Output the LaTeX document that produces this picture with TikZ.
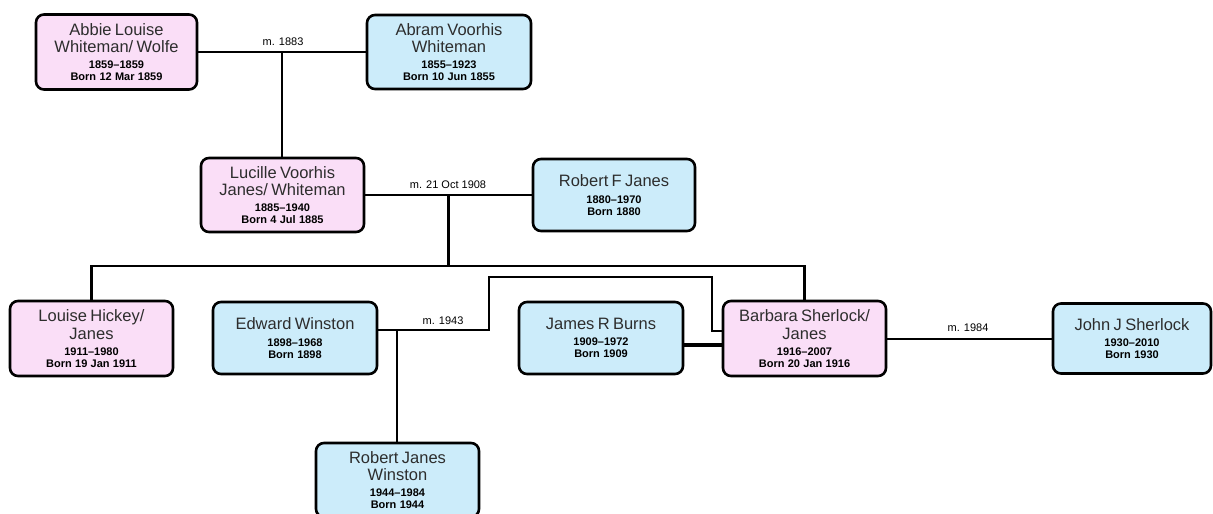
\documentclass[tikz,border=0pt]{standalone}
\usepackage{fontspec}
\setmainfont{Liberation Sans}
\usetikzlibrary{calc}
\definecolor{fpink}{RGB}{250,222,247}
\definecolor{mblue}{RGB}{204,236,250}
\definecolor{nametxt}{RGB}{45,45,45}
\newcommand\pname[1]{{\fontsize{16.5}{17.5}\selectfont\color{nametxt}#1\par}\vspace{4.2pt}}
\newcommand\pdates[1]{{\fontsize{11}{12}\selectfont\bfseries #1\par}}
\begin{document}
\begin{tikzpicture}[x=1pt,y=-1pt,
  person/.style={draw=black, line width=2.6pt, rounded corners=8pt, inner sep=0pt,
    text width=158pt, align=center, minimum height=74pt},
  female/.style={person, fill=fpink},
  male/.style={person, fill=mblue},
  conn/.style={draw=black, line width=2.6pt},
  thinconn/.style={draw=black, line width=2pt},
  wideconn/.style={draw=black, line width=3.6pt},
  mlabel/.style={font=\fontsize{11}{13}\selectfont, inner sep=0pt}
]
\useasboundingbox (0,0) rectangle (1213,514);
\clip (0,0) rectangle (1213,514);

% persons
\node[female, minimum width=161pt, minimum height=75pt] (abbie) at (116.5,52)
  {\pname{Abbie Louise\\Whiteman/ Wolfe}\pdates{1859–1859\\Born 12 Mar 1859}};
\node[male, minimum width=164pt] (abram) at (449,52)
  {\pname{Abram Voorhis\\Whiteman}\pdates{1855–1923\\Born 10 Jun 1855}};
\node[female, minimum width=163pt] (lucille) at (282.5,195)
  {\pname{Lucille Voorhis\\Janes/ Whiteman}\pdates{1885–1940\\Born 4 Jul 1885}};
\node[male, minimum width=162pt, minimum height=72pt] (robert) at (614,195)
  {\pname{Robert F Janes}\pdates{1880–1970\\Born 1880}};
\node[female, minimum width=163pt, minimum height=75pt] (louise) at (91.5,338.5)
  {\pname{Louise Hickey/\\Janes}\pdates{1911–1980\\Born 19 Jan 1911}};
\node[male, minimum width=164pt, minimum height=72pt] (edward) at (295,338)
  {\pname{Edward Winston}\pdates{1898–1968\\Born 1898}};
\node[male, minimum width=164pt, minimum height=72pt] (james) at (601,338)
  {\pname{James R Burns}\pdates{1909–1972\\Born 1909}};
\node[female, minimum width=163pt, minimum height=75pt] (barbara) at (804.5,338.5)
  {\pname{Barbara Sherlock/\\Janes}\pdates{1916–2007\\Born 20 Jan 1916}};
\node[male, minimum width=158pt, minimum height=70pt] (john) at (1132,338.5)
  {\pname{John J Sherlock}\pdates{1930–2010\\Born 1930}};
\node[male, minimum width=163pt, minimum height=74pt] (rjw) at (397.5,480)
  {\pname{Robert Janes\\Winston}\pdates{1944–1984\\Born 1944}};

% marriage 1883
\draw[conn] (abbie.east) -- (abram.west);
\coordinate (m1) at ($(abbie.east)!0.5!(abram.west)$);
\draw[conn] (m1) -- (m1 |- lucille.north);
\node[mlabel] (l1) at (283,42) {m. 1883};

% marriage 1908
\draw[conn] (lucille.east) -- (robert.west);
\coordinate (m2) at ($(lucille.east)!0.5!(robert.west)$);
\coordinate (hub2) at (m2 |- 0,266);
\draw[conn] (m2) -- (hub2);
\draw[conn] (louise.north) |- (hub2) -| (barbara.north);
\node[mlabel] (l2) at (448,185) {m. 21 Oct 1908};

% marriage 1943
\coordinate (e1) at ($(edward.east)+(0,-8)$);
\coordinate (b1) at ($(barbara.west)+(0,-7.5)$);
\coordinate (w1) at (489,277);
\coordinate (w2) at (712,331);
\draw[conn] (e1) -| (w1) -| (w2) -- (b1);
\coordinate (c3) at (397,0 |- e1);
\draw[conn] (c3) -- (c3 |- rjw.north);
\node[mlabel] (l3) at (443,321) {m. 1943};

% James R Burns -- Barbara
\draw[wideconn] ($(james.east)+(0,7)$) -- ($(barbara.west)+(0,6.5)$);

% marriage 1984
\draw[thinconn] (barbara.east) -- (john.west);
\node[mlabel] (l4) at (968,328) {m. 1984};
\end{tikzpicture}
\end{document}
